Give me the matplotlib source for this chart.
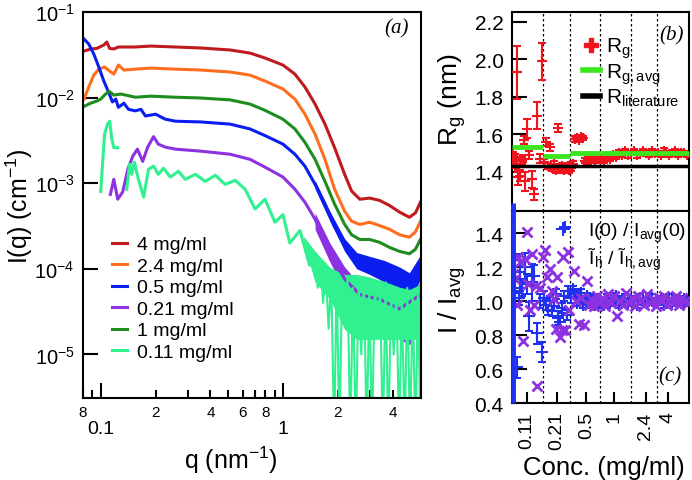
import numpy as np
import matplotlib
matplotlib.use('Agg')
import matplotlib.pyplot as plt
from matplotlib.ticker import FixedLocator, FixedFormatter, NullLocator, LogLocator
from matplotlib.lines import Line2D

plt.rcParams['font.family'] = ['Liberation Sans', 'DejaVu Sans']
plt.rcParams['mathtext.fontset'] = 'custom'
plt.rcParams['mathtext.rm'] = 'Liberation Sans'
plt.rcParams['mathtext.it'] = 'Liberation Sans:italic'
plt.rcParams['axes.linewidth'] = 1.5

## ---- panel (a) : scattering curves ----
q_red = [0.081, 0.088, 0.095, 0.104, 0.108, 0.112, 0.118, 0.125, 0.155, 0.188, 0.257, 0.352, 0.513,
         0.66, 0.797, 1.0, 1.163, 1.32, 1.50, 1.70, 1.92, 2.18, 2.38, 2.64, 2.99, 3.39, 3.84, 4.36,
         4.94, 5.33, 5.68]
I_red = [0.035, 0.0369, 0.0375, 0.0411, 0.0446, 0.0375, 0.037, 0.039, 0.039, 0.040, 0.039, 0.038,
         0.036, 0.0331, 0.029, 0.024, 0.0188, 0.0133, 0.0084, 0.0049, 0.0026, 0.00127, 0.00081,
         0.00065, 0.00067, 0.00063, 0.00055, 0.00046, 0.00040, 0.00045, 0.0006]

q_orange = [0.081, 0.086, 0.0916, 0.0976, 0.105, 0.112, 0.118, 0.125, 0.134, 0.155, 0.188, 0.257,
            0.352, 0.513, 0.66, 0.797, 1.0, 1.163, 1.32, 1.50, 1.70, 1.92, 2.18, 2.38, 2.64, 2.99,
            3.39, 3.84, 4.36, 4.94, 5.33, 5.68]
I_orange = [0.0096, 0.0133, 0.0183, 0.0215, 0.0228, 0.0204, 0.0188, 0.024, 0.021, 0.0215, 0.0221,
            0.0215, 0.021, 0.0199, 0.0183, 0.0156, 0.0126, 0.0096, 0.0064, 0.00374, 0.0019,
            0.00085, 0.00047, 0.00036, 0.00033, 0.00035, 0.00032, 0.00029, 0.00025, 0.000234,
            0.00027, 0.00036]

q_blue = [0.081, 0.086, 0.0916, 0.0976, 0.104, 0.111, 0.116, 0.121, 0.125, 0.134, 0.142, 0.155,
          0.166, 0.176, 0.2, 0.226, 0.257, 0.352, 0.513, 0.66, 0.797, 1.0, 1.163, 1.32, 1.50, 1.70,
          1.92, 2.18, 2.38, 2.64, 2.99, 3.39, 3.84, 4.36, 4.94, 5.33, 5.68]
I_blue = [0.0483, 0.0423, 0.0323, 0.0228, 0.0156, 0.0113, 0.0089, 0.0096, 0.0077, 0.0086, 0.0073,
          0.0070, 0.0073, 0.0061, 0.0064, 0.0056, 0.0053, 0.0052, 0.0049, 0.0043, 0.0036, 0.00286,
          0.00218, 0.00158, 0.00097, 0.00057, 0.00031, 0.000194, 0.000148, 0.000122, 0.000119,
          0.000110, 0.000093, 0.000080, 0.000066, 0.00008, 0.000113]

q_purple = [0.113, 0.118, 0.124, 0.132, 0.141, 0.150, 0.159, 0.170, 0.181, 0.195, 0.207, 0.226,
            0.257, 0.352, 0.513, 0.66, 0.797, 1.0, 1.163, 1.32, 1.50, 1.70, 1.92, 2.18, 2.64, 3.39,
            4.36, 5.68]
I_purple = [0.00074, 0.00111, 0.00065, 0.00079, 0.00146, 0.00207, 0.0025, 0.0018, 0.00264, 0.0035,
            0.00286, 0.00264, 0.0025, 0.00237, 0.00218, 0.0019, 0.00154, 0.00118, 0.00085, 0.0006,
            0.00038, 0.00021, 0.000122, 7.6e-5, 5.0e-5, 4.4e-5, 3.4e-5, 5.0e-5]

q_green = [0.081, 0.088, 0.095, 0.1, 0.105, 0.111, 0.118, 0.129, 0.155, 0.188, 0.257, 0.352, 0.513,
           0.66, 0.797, 1.0, 1.163, 1.32, 1.50, 1.70, 1.92, 2.18, 2.38, 2.64, 2.99, 3.39, 3.84, 4.36,
           4.94, 5.33, 5.68]
I_green = [0.0079, 0.0086, 0.0091, 0.0096, 0.0107, 0.0119, 0.0107, 0.011, 0.0101, 0.0104, 0.0101,
           0.0099, 0.0094, 0.0084, 0.0071, 0.0056, 0.0043, 0.0030, 0.0019, 0.00105, 0.00057,
           0.00033, 0.00025, 0.00022, 0.00022, 0.000204, 0.000178, 0.00016, 0.00015, 0.000169,
           0.00022]

# 0.11 mg/ml: first few points, a gap, then the rest
q_mint = [0.1, 0.105, 0.109, 0.112, 0.115, 0.118, 0.124, 0.13,
          0.139, 0.144, 0.148, 0.153, 0.161, 0.172, 0.183, 0.195, 0.207, 0.221, 0.241, 0.267,
          0.291, 0.331, 0.375, 0.425, 0.482, 0.547, 0.62, 0.703, 0.797, 0.904, 1.0, 1.09, 1.24,
          1.40, 1.50]
I_mint = [0.0008, 0.00374, 0.0049, 0.0053, 0.0033, 0.0026, 0.0026, np.nan,
          0.00085, 0.00167, 0.00127, 0.00176, 0.00111, 0.00069, 0.00146, 0.00158, 0.00127, 0.0015,
          0.00118, 0.00138, 0.00111, 0.00127, 0.00105, 0.00124, 0.00097, 0.00108, 0.00085,
          0.0005, 0.00065, 0.00035, 0.00043, 0.0002, 0.00028, 0.00011, 0.00015]
# noisy high-q part of 0.11 mg/ml
q_mint_hi = [1.50, 1.55, 1.61, 1.66, 1.72, 1.78, 1.84, 1.91, 1.97, 2.04, 2.11, 2.19, 2.26, 2.34,
             2.42, 2.51, 2.60, 2.69, 2.78, 2.88, 2.98, 3.08, 3.19, 3.30, 3.41, 3.53, 3.66, 3.78,
             3.92, 4.05, 4.19, 4.34, 4.49, 4.65, 4.81, 4.98, 5.15, 5.33, 5.51, 5.68]
I_mint_hi = [1.5e-4, 6e-5, 1.1e-4, 4e-5, 9e-5, 2e-5, 8e-5, 1e-6, 9e-5, 1e-6, 7e-5, 3e-5, 8e-5,
             1e-6, 6e-5, 1e-6, 7e-5, 1e-5, 8e-5, 1e-6, 6e-5, 1e-6, 7e-5, 2e-5, 6e-5, 1e-6, 7e-5,
             1e-6, 5e-5, 1e-5, 6e-5, 1e-6, 5e-5, 1e-6, 6e-5, 1e-6, 5e-5, 1e-6, 6e-5, 1e-6]

# envelopes of the noise at high q
q_band = [1.50, 1.81, 2.18, 2.54, 2.99, 3.61, 4.36, 4.94, 5.68]
blue_lo = [8.6e-4, 3.6e-4, 1.6e-4, 1.0e-4, 8.6e-5, 7.0e-5, 5.2e-5, 4.2e-5, 7.5e-5]
blue_hi = [1.08e-3, 4.7e-4, 2.25e-4, 1.55e-4, 1.4e-4, 1.25e-4, 1.05e-4, 9.0e-5, 1.45e-4]
purple_lo = [2.9e-4, 1.2e-4, 5.5e-5, 3.2e-5, 2.4e-5, 1.9e-5, 1.5e-5, 1.3e-5, 2.0e-5]
purple_hi = [4.5e-4, 2.0e-4, 1.05e-4, 7.2e-5, 6.4e-5, 5.6e-5, 4.9e-5, 4.3e-5, 7.2e-5]
q_mint_band = [1.30, 1.50, 1.81, 2.18, 2.54, 2.99, 3.61, 4.36, 4.94, 5.68]
mint_lo = [2.0e-4, 7.0e-5, 4.4e-5, 1.96e-5, 1.5e-5, 1.5e-5, 1.5e-5, 1.5e-5, 1.5e-5, 1.5e-5]
mint_hi = [2.4e-4, 1.6e-4, 1.04e-4, 8.6e-5, 8.6e-5, 8.0e-5, 7.1e-5, 6.1e-5, 5.75e-5, 6.6e-5]

conc_labels = ['4 mg/ml', '2.4 mg/ml', '0.5 mg/ml', '0.21 mg/ml', '1 mg/ml', '0.11 mg/ml']
colors = ['#C01A1E', '#FF6E1E', '#0A1EF0', '#8C32E0', '#1E8C1E', '#30F090']

## ---- panels (b), (c) : series of measurements ----
seg_bounds = [0, 31, 59, 89, 120, 146, 179]
seg_centers = [15, 45, 75, 103, 135, 158]
seg_labels = ['0.11', '0.21', '0.5', '1', '2.4', '4']

rg_x = [1, 2, 3, 4, 5, 6, 7, 8, 10, 11, 12, 13, 15, 17, 20, 22, 25, 28, 30,
        32, 34, 36, 38, 40, 42, 44, 46, 48, 50, 52, 54, 56, 58,
        60, 62, 64, 66, 68, 70, 72, 74, 76, 78, 80, 82, 84, 86, 88,
        90, 93, 96, 99, 102, 105, 108, 111, 114, 117, 120, 123, 126, 129, 132, 135, 138, 141,
        144, 147, 150, 153, 156, 159, 162, 165, 168, 171, 174, 177]
rg_y = [1.49, 1.47, 1.48, 1.44, 1.93, 1.37, 1.40, 1.38, 1.46, 1.47, 1.57, 1.35, 1.63, 1.49, 1.36,
        1.28, 1.70, 1.47, 1.99,
        1.45, 1.56, 1.43, 1.53, 1.42, 1.44, 1.41, 1.635, 1.42, 1.43, 1.41, 1.42, 1.43, 1.41,
        1.42, 1.44, 1.575, 1.58, 1.57, 1.585, 1.58, 1.46, 1.45, 1.47, 1.46, 1.475, 1.46, 1.48, 1.47,
        1.47, 1.46, 1.48, 1.47, 1.49, 1.48, 1.50, 1.49, 1.51, 1.49, 1.50, 1.51, 1.49, 1.50, 1.51,
        1.50, 1.49, 1.51, 1.50, 1.50, 1.49, 1.51, 1.50, 1.49, 1.50, 1.51, 1.49, 1.50, 1.50, 1.49]
rg_err = [0.015, 0.02, 0.015, 0.02, 0.14, 0.04, 0.03, 0.03, 0.02, 0.02, 0.02, 0.05, 0.05, 0.02,
          0.045, 0.03, 0.07, 0.025, 0.10,
          0.02, 0.02, 0.015, 0.02, 0.015, 0.015, 0.015, 0.02, 0.015, 0.015, 0.015, 0.015, 0.015,
          0.015,
          0.015, 0.015, 0.015, 0.012, 0.012, 0.012, 0.012, 0.012, 0.012, 0.012, 0.012, 0.012,
          0.012, 0.012, 0.012,
          0.015, 0.012, 0.012, 0.015, 0.012, 0.012, 0.015, 0.012, 0.012, 0.015, 0.012, 0.012,
          0.015, 0.012, 0.012, 0.015, 0.012, 0.012, 0.015, 0.012, 0.012, 0.015, 0.012, 0.012,
          0.015, 0.012, 0.012, 0.015, 0.012, 0.012]
rg_avg = [1.533, 1.485, 1.50, 1.50, 1.50, 1.50]
rg_literature = 1.432

i0_x = [3, 5, 7, 8, 10, 13, 15, 17, 20, 22, 25, 28, 30,
        32, 34, 36, 38, 40, 42, 44, 46, 48, 50, 52, 55, 57,
        60, 62, 64, 66, 68, 70, 72, 74, 76, 78, 80, 82, 84, 86, 88,
        90, 93, 96, 99, 102, 105, 108, 111, 114, 117, 120, 123, 126, 129, 132, 135, 138, 141,
        144, 147, 150, 153, 156, 159, 162, 165, 168, 171, 174, 177]
i0_y = [1.05, 0.61, 1.02, 1.17, 1.08, 1.20, 1.10, 0.91, 1.11, 1.15, 0.81, 1.00, 0.70,
        1.02, 0.98, 0.95, 1.00, 0.94, 0.97, 1.04, 0.90, 0.88, 0.96, 1.03, 0.92, 1.06,
        1.02, 1.07, 1.04, 0.99, 1.03, 1.05, 0.98, 1.01, 1.03, 0.99, 1.00, 1.02, 0.98, 1.01, 0.99,
        1.00, 0.98, 1.02, 0.99, 1.01, 1.03, 0.98, 1.00, 1.02, 0.99, 1.01, 1.00, 0.98, 1.02, 1.00,
        0.99, 1.01, 1.02, 0.99, 1.00, 1.01, 0.98, 1.00, 1.02, 0.99, 1.01, 1.00, 0.99, 1.01, 1.00]
i0_err = [0.08, 0.06, 0.04, 0.11, 0.05, 0.085, 0.06, 0.085, 0.11, 0.06, 0.06, 0.04, 0.06,
          0.04, 0.03, 0.03, 0.03, 0.03, 0.03, 0.03, 0.04, 0.03, 0.03, 0.03, 0.03, 0.03,
          0.03, 0.02, 0.02, 0.02, 0.02, 0.02, 0.02, 0.02, 0.02, 0.02, 0.02, 0.02, 0.02, 0.02, 0.02,
          0.02, 0.02, 0.02, 0.02, 0.02, 0.02, 0.02, 0.02, 0.02, 0.02, 0.02, 0.02, 0.02, 0.02, 0.02,
          0.02, 0.02, 0.02, 0.02, 0.02, 0.02, 0.02, 0.02, 0.02, 0.02, 0.02, 0.02, 0.02, 0.02, 0.02]
i0_lone_x = [53]
i0_lone_y = [1.435]

ih_x = [1, 3, 5, 6, 8, 11, 13, 15, 16, 18, 20, 22, 24, 25, 28, 31,
        33, 35, 38, 40, 42, 44, 45, 48, 50, 53, 56, 58,
        63, 65, 68, 70, 73, 76, 78, 80, 83, 86, 88,
        91, 94, 97, 100, 103, 106, 109, 112, 115, 118, 121, 124, 127, 130, 133, 136, 139, 142,
        145, 148, 151, 154, 157, 160, 163, 166, 169, 172, 175, 178]
ih_y = [1.16, 1.13, 0.98, 1.26, 1.23, 0.765, 1.25, 1.41, 1.10, 0.95, 1.28, 0.98, 1.09, 0.50, 1.08,
        1.26,
        1.30, 1.14, 1.19, 1.06, 1.01, 0.835, 1.14, 0.79, 0.83, 0.83, 1.29, 0.95,
        1.18, 1.0, 0.865, 1.02, 0.86, 1.12, 0.98, 1.01, 0.97, 1.03, 0.99,
        1.02, 0.97, 1.04, 0.99, 1.03, 0.91, 1.0, 0.98, 1.05, 0.99, 1.02, 0.97, 1.03, 1.0, 0.98,
        1.04, 0.99, 1.01, 0.97, 1.02, 1.0, 1.03, 0.98, 1.01, 0.99, 1.03, 0.98, 1.02, 1.0, 0.99]
blue_bar_x = 1
blue_bar_top = 1.58

fig = plt.figure(figsize=(6.92, 4.81), dpi=100)
ax_a = fig.add_axes([0.120, 0.1705, 0.488, 0.8025])
ax_b = fig.add_axes([0.740, 0.559, 0.256, 0.414])
ax_c = fig.add_axes([0.740, 0.160, 0.256, 0.399], sharex=ax_b)

## (a)
curves = [(q_red, I_red), (q_orange, I_orange), (q_blue, I_blue),
          (q_purple, I_purple), (q_green, I_green), (q_mint, I_mint)]
for (qq, ii), c, lab in zip(curves, colors, conc_labels):
    ax_a.plot(qq, ii, color=c, lw=2.2, label=lab)
    if lab == '0.5 mg/ml':
        ax_a.fill_between(q_band, blue_lo, blue_hi, color=c, lw=0)
    if lab == '0.21 mg/ml':
        ax_a.fill_between(q_band, purple_lo, purple_hi, color=c, lw=0)
    if lab == '0.11 mg/ml':
        ax_a.fill_between(q_mint_band, mint_lo, mint_hi, color=c, lw=0)
        ax_a.plot(q_mint_hi, I_mint_hi, color=c, lw=1.5)

ax_a.set_xscale('log')
ax_a.set_yscale('log')
ax_a.set_xlim(0.08, 5.7)
ax_a.set_ylim(3.1e-6, 0.1)
ax_a.xaxis.set_major_locator(FixedLocator([0.1, 1]))
ax_a.xaxis.set_major_formatter(FixedFormatter(['0.1', '1']))
ax_a.xaxis.set_minor_locator(FixedLocator([0.08, 0.09, 0.2, 0.3, 0.4, 0.5, 0.6, 0.7, 0.8, 0.9,
                                           2, 3, 4, 5]))
ax_a.xaxis.set_minor_formatter(FixedFormatter(['8', '', '2', '', '4', '', '6', '', '8', '',
                                               '2', '', '4', '']))
ax_a.yaxis.set_major_locator(LogLocator(base=10, subs=(1.0,)))
ax_a.yaxis.set_minor_locator(NullLocator())
ax_a.tick_params(axis='x', which='major', direction='in', length=11, width=1.5, labelsize=14, pad=16)
ax_a.tick_params(axis='x', which='minor', direction='in', length=6, width=1.5, labelsize=11, pad=5)
ax_a.tick_params(axis='y', direction='in', length=11, width=1.5, labelsize=14.5, pad=6)
ax_a.set_xlabel('q (nm$^{-1}$)', fontsize=18, va='center')
ax_a.xaxis.set_label_coords(0.438, -0.158)
ax_a.set_ylabel('I(q) (cm$^{-1}$)', fontsize=18, va='center')
ax_a.yaxis.set_label_coords(-0.188, 0.5)
ax_a.text(0.929, 0.958, '(a)', transform=ax_a.transAxes, ha='center', va='center',
          fontsize=15, family='Liberation Serif', style='italic')
ax_a.legend(loc='upper left', bbox_to_anchor=(0.085, 0.42), frameon=False, fontsize=14,
            handlelength=0.8, handletextpad=0.5, labelspacing=0.2, borderaxespad=0,
            borderpad=0)

## (b)
for ax in (ax_b, ax_c):
    for xb in seg_bounds[1:-1]:
        ax.axvline(xb, color='black', lw=0.9, ls=(0, (2, 2)), zorder=1)

ax_b.errorbar(rg_x, rg_y, yerr=rg_err, fmt='+', color='#F0141E', ms=7, mew=1.5,
              elinewidth=1.5, capsize=3, capthick=1.5, zorder=3)
ax_b.hlines(rg_avg, seg_bounds[:-1], seg_bounds[1:], color='#3CE61E', lw=3.5, zorder=4)
ax_b.axhline(rg_literature, color='black', lw=2.5, zorder=4)
ax_b.set_xlim(seg_bounds[0], seg_bounds[-1])
ax_b.set_ylim(1.19, 2.253)
ax_b.set_yticks([1.4, 1.6, 1.8, 2.0, 2.2])
ax_b.set_yticklabels(['1.4', '1.6', '1.8', '2.0', '2.2'])
ax_b.tick_params(axis='y', direction='in', length=11, width=1.5, labelsize=15, pad=6)
ax_b.tick_params(axis='x', bottom=False, labelbottom=False)
ax_b.set_ylabel('R$_{\\rm g}$ (nm)', fontsize=19, va='center')
ax_b.yaxis.set_label_coords(-0.337, 0.563)
ax_b.text(0.899, 0.884, '(b)', transform=ax_b.transAxes, ha='center', va='center',
          fontsize=15, family='Liberation Serif', style='italic')
hb = [Line2D([], [], ls='none', marker='P', ms=10, color='#F0141E'),
      Line2D([], [], color='#3CE61E', lw=4),
      Line2D([], [], color='black', lw=4)]
ax_b.legend(hb, ['R$_{\\rm g}$', 'R$_{\\rm g,avg}$', 'R$_{\\rm literature}$'], loc='upper left',
            bbox_to_anchor=(0.40, 0.88), frameon=False, fontsize=15, handlelength=0.8,
            handletextpad=0.3, labelspacing=0.05, borderaxespad=0, borderpad=0)

## (c)
ax_c.errorbar(i0_x, i0_y, yerr=i0_err, fmt='+', color='#1E32F0', ms=8, mew=1.5,
              elinewidth=1.5, capsize=3, capthick=1.5, zorder=3)
ax_c.plot(i0_lone_x, i0_lone_y, '+', color='#1E32F0', ms=9, mew=1.5)
ax_c.plot(ih_x, ih_y, 'x', color='#8C32E0', ms=7, mew=2, ls='none', zorder=4)
ax_c.plot([blue_bar_x, blue_bar_x], [0.4, blue_bar_top], color='#1E32F0', lw=3.5,
          solid_capstyle='butt', clip_on=False, zorder=5)
ax_c.set_ylim(0.4, 1.53)
ax_c.set_yticks([0.4, 0.6, 0.8, 1.0, 1.2, 1.4])
ax_c.set_yticklabels(['0.4', '0.6', '0.8', '1.0', '1.2', '1.4'])
ax_c.tick_params(axis='y', direction='in', length=11, width=1.5, labelsize=15, pad=6)
ax_c.set_xticks(seg_centers)
ax_c.set_xticklabels(seg_labels, rotation=90)
ax_c.tick_params(axis='x', direction='in', length=8, width=1.5, labelsize=14, pad=6)
ax_c.set_ylabel('I / I$_{\\rm avg}$', fontsize=19, va='center')
ax_c.yaxis.set_label_coords(-0.337, 0.54)
ax_c.set_xlabel('Conc. (mg/ml)', fontsize=18.5, va='center')
ax_c.xaxis.set_label_coords(0.517, -0.333)
ax_c.text(0.893, 0.14, '(c)', transform=ax_c.transAxes, ha='center', va='center',
          fontsize=15, family='Liberation Serif', style='italic')
hc = [Line2D([], [], ls='none', marker='+', ms=10, mew=1.5, color='#1E32F0'),
      Line2D([], [], ls='none', marker='x', ms=9, mew=2, color='#8C32E0')]
ax_c.legend(hc, ['I(0) / I$_{\\rm avg}$(0)', 'Ĩ$_{\\rm h}$ / Ĩ$_{\\rm h,avg}$'], loc='upper left',
            bbox_to_anchor=(0.23, 0.95), frameon=False, fontsize=14, handlelength=1.0,
            handletextpad=0.8, labelspacing=0.1, borderaxespad=0, borderpad=0)

fig.savefig('out.png', dpi=100)
